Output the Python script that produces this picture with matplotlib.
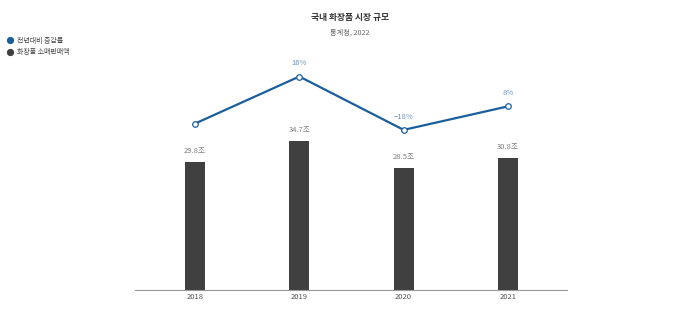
import matplotlib.pyplot as plt
from matplotlib.lines import Line2D

plt.rcParams['font.family'] = ['Noto Sans CJK KR', 'DejaVu Sans']

# data
years = ['2018', '2019', '2020', '2021']
sales = [29.8, 34.7, 28.5, 30.8]  # 화장품 소매판매액 (조)
sales_labels = ['29.8조', '34.7조', '28.5조', '30.8조']
growth = [-14, 16, -18, -3]  # line position as drawn
growth_labels = ['', '16%', '\u221218%', '8%']

bar_color = '#404040'
line_color = '#1a5e9e'

fig = plt.figure(figsize=(7, 3.22), dpi=100)
ax = fig.add_axes([0.193, 0.0994, 0.617, 0.7149])
x = list(range(len(years)))

ax.bar(x, sales, width=0.19, color=bar_color, zorder=2)
for xi, v, lab in zip(x, sales, sales_labels):
    ax.annotate(lab, (xi, v), xytext=(0, 5), textcoords='offset points',
                ha='center', va='bottom', fontsize=5.5, color='#808080')
ax.set_ylim(0, 53.6)
ax.set_xlim(-0.574, 3.565)
ax.set_xticks(x)
ax.set_xticklabels(years, fontsize=5.5, color='#555555')
ax.tick_params(axis='x', length=0, pad=2)
ax.set_yticks([])
for s in ['top', 'right', 'left']:
    ax.spines[s].set_visible(False)
ax.spines['bottom'].set_color('#999999')
ax.spines['bottom'].set_linewidth(0.8)

ax2 = ax.twinx()
ax2.plot(x, growth, color=line_color, lw=1.6, marker='o', ms=4,
         mfc='white', mec=line_color, mew=0.9, zorder=3)
for xi, v, lab in zip(x, growth, growth_labels):
    ax2.annotate(lab, (xi, v), xytext=(0, 6.5), textcoords='offset points',
                 ha='center', va='bottom', fontsize=5.5, color='#7094bb')
ax2.set_ylim(-120, 26.65)
ax2.set_yticks([])
ax2.set_axis_off()

fig.text(0.5, 0.947, '국내 화장품 시장 규모', ha='center', va='center',
         fontsize=6.3, fontweight='bold', color='#333333')
fig.text(0.5, 0.9, '통계청, 2022', ha='center', va='center',
         fontsize=5.2, color='#666666')

handles = [Line2D([], [], ls='', marker='o', ms=4.2, color=line_color),
           Line2D([], [], ls='', marker='o', ms=4.2, color=bar_color)]
fig.legend(handles, ['전년대비 증감률', '화장품 소매판매액'],
           loc='upper left', bbox_to_anchor=(0.006, 0.895), frameon=False,
           fontsize=5, labelcolor='#444444', handletextpad=0.45,
           labelspacing=0.5, handlelength=1.0, borderaxespad=0)

fig.savefig('out.png', dpi=100, facecolor='white')
